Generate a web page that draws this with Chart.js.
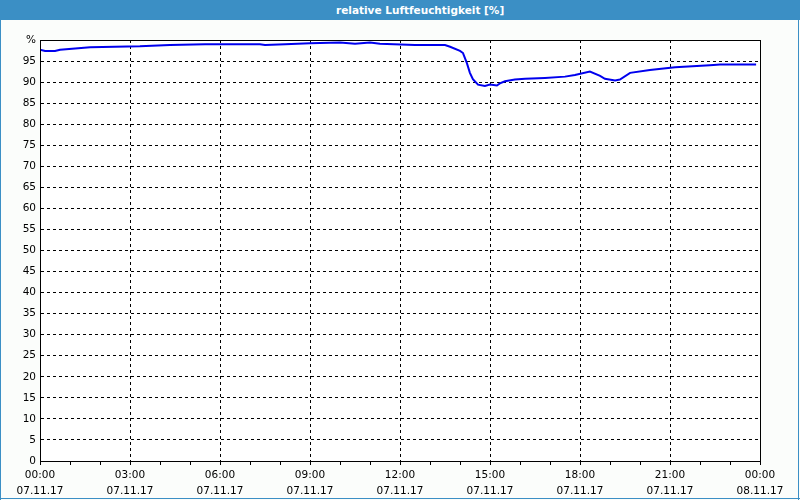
<!DOCTYPE html>
<html>
<head>
<meta charset="utf-8">
<script src="https://cdn.jsdelivr.net/npm/chart.js@4/dist/chart.umd.min.js"></script>
<style>
  html, body { margin: 0; padding: 0; background: #fbfdfb; }
  #wrap { position: relative; width: 800px; height: 500px; overflow: hidden; }
  #c { position: absolute; left: 0; top: 0; }
  #title { position: absolute; left: 0; top: 0; width: 800px; height: 20px; background: #3b8fc5;
           color: #fff; font: bold 10.5px "DejaVu Sans", sans-serif; line-height: 20px; }
  #title span { position: absolute; left: 336px; top: 0; white-space: nowrap; }
</style>
</head>
<body>
<div id="wrap">
  <canvas id="c" width="800" height="500"></canvas>
  <div id="title"><span>relative Luftfeuchtigkeit [%]</span></div>
</div>
<script>
// time in hours since 07.11.17 00:00
const timeHours = [0.0, 0.17, 0.5, 0.67, 1.17, 1.67, 3.33, 4.33, 5.5, 7.33, 7.5, 8.17, 9.0, 10.0, 10.5, 11.0, 11.33, 12.5, 13.5, 13.67, 14.0, 14.1, 14.23, 14.33, 14.43, 14.6, 14.83, 15.0, 15.23, 15.33, 15.5, 15.83, 16.17, 16.83, 17.5, 17.83, 18.33, 18.67, 18.83, 19.17, 19.33, 19.67, 20.33, 21.17, 22.33, 22.67, 23.87];
const humidity = [97.7, 97.4, 97.4, 97.7, 98.0, 98.3, 98.5, 98.8, 99.0, 99.0, 98.8, 99.0, 99.2, 99.4, 99.1, 99.4, 99.1, 98.8, 98.8, 98.4, 97.4, 96.9, 94.5, 92.2, 90.7, 89.4, 89.1, 89.4, 89.2, 89.7, 90.2, 90.6, 90.8, 91.0, 91.3, 91.7, 92.5, 91.5, 90.8, 90.4, 90.6, 92.2, 92.9, 93.5, 94.0, 94.2, 94.2];
const xTickLabels = {0: ["00:00", "07.11.17"], 3: ["03:00", "07.11.17"], 6: ["06:00", "07.11.17"], 9: ["09:00", "07.11.17"], 12: ["12:00", "07.11.17"], 15: ["15:00", "07.11.17"], 18: ["18:00", "07.11.17"], 21: ["21:00", "07.11.17"], 24: ["00:00", "08.11.17"]};
const yTopLabel = "%";

const points = timeHours.map((t, i) => ({x: t, y: humidity[i]}));

const frame = {
  id: 'frame',
  beforeDraw(chart) {
    const {ctx, chartArea: a} = chart;
    ctx.save();
    ctx.fillStyle = '#fbfdfb';
    ctx.fillRect(0, 0, 800, 500);
    ctx.fillStyle = '#ffffff';
    ctx.fillRect(a.left, a.top, a.right - a.left, a.bottom - a.top);
    ctx.fillStyle = '#3b8fc5';
    ctx.fillRect(0, 0, 1, 500);
    ctx.fillRect(798, 0, 1, 500);
    ctx.fillRect(0, 498, 800, 1);
    ctx.restore();
  },
  afterDraw(chart) {
    const {ctx, chartArea: a} = chart;
    ctx.save();
    ctx.strokeStyle = '#000';
    ctx.lineWidth = 1;
    ctx.setLineDash([]);
    ctx.strokeRect(Math.round(a.left) + 0.5, Math.round(a.top) + 0.5, Math.round(a.right - a.left), Math.round(a.bottom - a.top));
    ctx.restore();
  }
};

new Chart(document.getElementById('c'), {
  type: 'line',
  data: {
    datasets: [{
      data: points,
      borderColor: '#0000ee',
      borderWidth: 2,
      pointRadius: 0,
      tension: 0,
      fill: false
    }]
  },
  options: {
    responsive: false,
    animation: false,
    devicePixelRatio: 1,
    layout: { padding: { left: 0, top: 40, right: 40, bottom: 0 } },
    plugins: { legend: { display: false }, title: { display: false }, tooltip: { enabled: false } },
    scales: {
      x: {
        type: 'linear',
        min: 0, max: 24,
        afterFit(s) { s.height = 39; },
        ticks: {
          stepSize: 1,
          autoSkip: false,
          maxRotation: 0,
          color: '#000',
          font: { family: 'DejaVu Sans', size: 10.5, lineHeight: 1.55 },
          padding: 2,
          callback: (v) => xTickLabels[v] !== undefined ? xTickLabels[v] : ''
        },
        grid: {
          color: (c) => (c.tick && c.tick.value % 3 === 0) ? '#000' : 'rgba(0,0,0,0)',
          tickColor: '#000',
          tickLength: 4,
          lineWidth: 1
        },
        border: { display: true, color: '#000', dash: [3, 3] }
      },
      y: {
        min: 0, max: 100,
        afterFit(s) { s.width = 40; },
        ticks: {
          stepSize: 5,
          color: '#000',
          font: { family: 'DejaVu Sans', size: 10.5 },
          padding: 4,
          callback: (v) => v === 100 ? yTopLabel : String(v)
        },
        grid: {
          color: '#000',
          drawTicks: false,
          lineWidth: 1
        },
        border: { display: true, color: '#000', dash: [3, 3] }
      }
    }
  },
  plugins: [frame]
});
</script>
</body>
</html>
